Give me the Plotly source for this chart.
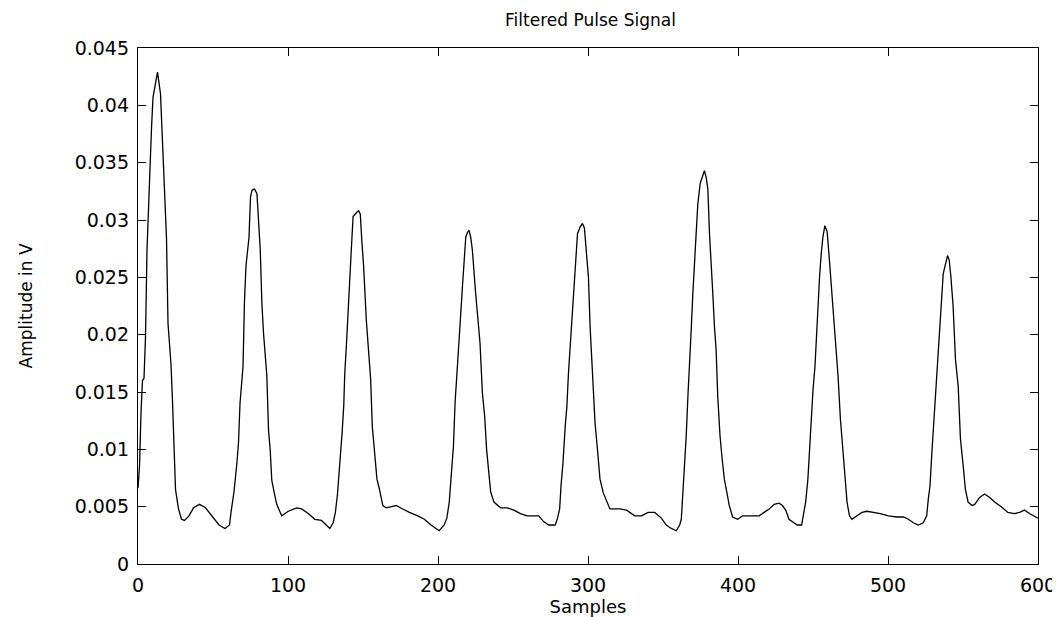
import plotly.graph_objects as go

# samples (x = sample index, y = amplitude in V)
samples = [
    0, 1, 2, 3, 4, 5, 6, 7, 9, 10, 12, 13, 15, 16, 18, 19, 20, 22, 23, 24,
    25, 27, 29, 31, 34, 37, 41, 45, 49, 54, 58, 61, 62, 64, 66, 67, 68, 70, 71, 72,
    74, 75, 76, 77.7, 79.3, 80.4, 81.5, 82.6, 83.7,
    85.9, 87.0, 88.1, 89.2, 90.7, 92.5, 95.8, 100.2, 105.8, 109.1, 113.5, 117.9, 122.3,
    127.9, 130.1, 131.6, 133.0, 133.8, 135.0, 136.1, 137.2, 137.8, 138.9, 140.0, 141.1,
    142.2, 143.4, 144.5, 146.0, 147.1, 148.2, 149.3, 150.4, 152.2, 153.7, 155.1, 156.2,
    157.7, 159.3, 161.0, 163.2, 165.5, 168.8, 172.1,
    176.5, 180.9, 186.5, 190.9, 195.3, 200.8, 204.1, 205.9, 207.5, 209.0, 210.3, 211.4,
    212.5, 214.1, 215.2, 216.3, 217.4, 218.5, 219.6, 220.7, 221.8, 222.9, 225.1, 226.7,
    228.0, 229.6, 231.1, 232.4, 234.0, 235.1, 237.3, 241.7, 246.1, 250.6, 255.0,
    259.4, 267.1, 270.4, 273.8, 278.2, 279.7, 281.1, 282.0, 283.3, 284.8, 285.9, 287.0,
    288.1, 289.2, 290.3, 291.4, 293.0, 294.8, 296.3, 297.6, 299.2, 300.3, 301.4, 303.2,
    304.7, 306.3, 308.0, 310.2, 312.4, 314.6, 318.0, 321.3, 325.7, 331.2, 335.7, 340.1,
    344.5, 348.9, 352.2, 355.5, 358.9, 361.1, 362.2, 363.3, 364.4, 365.5, 366.6, 367.7,
    368.8, 369.9, 371.0, 372.1, 373.2, 374.8, 376.5, 377.6, 378.8, 379.9, 381.0, 382.1,
    383.2, 384.3, 385.4, 386.5, 388.0, 389.4, 390.9, 392.5, 394.2, 396.4, 399.8, 403.1,
    407.5, 414.1, 417.4, 420.8, 424.1, 427.4,
    429.6, 431.8, 434.0, 436.2, 439.5, 442.4, 443.3, 445.1, 446.6, 447.7, 448.8, 450.0,
    451.3, 452.2, 453.5, 454.4, 455.5, 456.6, 457.9, 459.4, 460.6, 461.7, 462.8, 464.3,
    465.4, 466.7, 468.3, 469.4, 470.7, 471.6, 472.7, 474.3, 476.0, 479.3, 482.7, 486.0,
    490.4, 494.8, 500.3, 505.9, 510.3, 513.6,
    516.9, 520.2, 523.5, 525.8, 526.9, 528.0, 529.1, 530.2, 531.3, 532.4, 533.5, 534.6,
    535.7, 536.8, 538.4, 539.7, 540.8, 541.9, 543.4, 545.0, 546.8, 548.3, 550.1, 551.6,
    553.4, 556.0, 557.8, 561.1, 564.4, 567.8, 571.1, 575.5, 579.9, 584.3, 587.7, 591.0,
    594.3, 598.7, 600,
]

amplitude = [
    0.0066, 0.0085, 0.0132, 0.0160, 0.0162, 0.0198, 0.0274, 0.0313, 0.0380, 0.0407,
    0.0424, 0.0429, 0.0410, 0.0380, 0.0320, 0.0284, 0.0210, 0.0174, 0.0142, 0.0097,
    0.0065, 0.0048, 0.0039, 0.0038, 0.0042, 0.0049, 0.0052, 0.0049, 0.0042, 0.0034,
    0.0031, 0.0034, 0.0045, 0.0063, 0.0089, 0.0106, 0.0140, 0.0172, 0.0230, 0.0260,
    0.0285, 0.0320, 0.0326, 0.0327, 0.0323, 0.0294, 0.0274, 0.0227, 0.0201,
    0.0164, 0.0117, 0.0100, 0.0073, 0.0063, 0.0052, 0.0042, 0.0046, 0.0049, 0.0048,
    0.0044, 0.0039, 0.0038,
    0.0031, 0.0036, 0.0045, 0.0061, 0.0074, 0.0094, 0.0115, 0.0139, 0.0165, 0.0190,
    0.0222, 0.0248, 0.0274, 0.0303, 0.0305, 0.0307, 0.0308, 0.0305, 0.0280, 0.0260,
    0.0213, 0.0187, 0.0161, 0.0120, 0.0100, 0.0074, 0.0065, 0.0051, 0.0049, 0.0050,
    0.0051,
    0.0048, 0.0045, 0.0042, 0.0039, 0.0034, 0.0029, 0.0034, 0.0040, 0.0054, 0.0080,
    0.0103, 0.0141, 0.0167, 0.0193, 0.0219, 0.0242, 0.0265, 0.0285, 0.0289, 0.0291,
    0.0285, 0.0274, 0.0236, 0.0213, 0.0193, 0.0149, 0.0129, 0.0100, 0.0077, 0.0063,
    0.0054, 0.0049, 0.0049, 0.0047, 0.0044,
    0.0042, 0.0042, 0.0037, 0.0034, 0.0034, 0.0040, 0.0048, 0.0068, 0.0088, 0.0120,
    0.0137, 0.0167, 0.0190, 0.0216, 0.0239, 0.0262, 0.0288, 0.0294, 0.0297, 0.0293,
    0.0268, 0.0250, 0.0207, 0.0164, 0.0123, 0.0100, 0.0074, 0.0062, 0.0055, 0.0048,
    0.0048, 0.0048, 0.0047, 0.0042, 0.0042, 0.0045,
    0.0045, 0.0040, 0.0034, 0.0031, 0.0029, 0.0034, 0.0039, 0.0063, 0.0080, 0.0112,
    0.0146, 0.0172, 0.0204, 0.0236, 0.0265, 0.0294, 0.0314, 0.0332, 0.0340, 0.0343,
    0.0337, 0.0327, 0.0288, 0.0265, 0.0236, 0.0207, 0.0187, 0.0146, 0.0112, 0.0092,
    0.0074, 0.0063, 0.0051, 0.0041, 0.0039, 0.0042, 0.0042, 0.0042, 0.0045, 0.0048,
    0.0052, 0.0053,
    0.0051, 0.0047, 0.0039, 0.0037, 0.0034, 0.0034, 0.0042, 0.0054, 0.0074, 0.0100,
    0.0126, 0.0152, 0.0172, 0.0198, 0.0227, 0.0251, 0.0271, 0.0285, 0.0295, 0.0290,
    0.0271, 0.0251, 0.0236, 0.0210, 0.0187, 0.0164, 0.0126, 0.0106, 0.0083, 0.0065,
    0.0054, 0.0042, 0.0039, 0.0042, 0.0045, 0.0046, 0.0045, 0.0044, 0.0042, 0.0041,
    0.0041, 0.0039,
    0.0036, 0.0034, 0.0036, 0.0042, 0.0057, 0.0068, 0.0094, 0.0117, 0.0141, 0.0164,
    0.0184, 0.0210, 0.0230, 0.0253, 0.0262, 0.0269, 0.0265, 0.0251, 0.0225, 0.0178,
    0.0155, 0.0109, 0.0086, 0.0065, 0.0054, 0.0051, 0.0052, 0.0058, 0.0061, 0.0058,
    0.0054, 0.0050, 0.0045, 0.0044, 0.0045, 0.0047, 0.0044, 0.0041, 0.0040,
]

x_ticks = [0, 100, 200, 300, 400, 500, 600]
y_ticks = [0, 0.005, 0.01, 0.015, 0.02, 0.025, 0.03, 0.035, 0.04, 0.045]
y_tick_labels = ["0", "0.005", "0.01", "0.015", "0.02", "0.025", "0.03", "0.035", "0.04", "0.045"]

font = "DejaVu Sans, Arial, sans-serif"

fig = go.Figure()
fig.add_trace(
    go.Scatter(
        x=samples,
        y=amplitude,
        mode="lines",
        line=dict(color="black", width=1.3),
        showlegend=False,
    )
)

axis_style = dict(
    showline=True,
    linecolor="black",
    linewidth=1.3,
    mirror="allticks",
    ticks="inside",
    ticklen=8,
    tickcolor="black",
    showgrid=False,
    zeroline=False,
    tickfont=dict(family=font, size=19, color="black"),
    ticklabelstandoff=4,
)

fig.update_xaxes(
    range=[0, 600],
    tickvals=x_ticks,
    title=dict(text="Samples", font=dict(family=font, size=18, color="black"), standoff=4),
    **axis_style,
)
fig.update_yaxes(
    range=[0, 0.045],
    tickvals=y_ticks,
    ticktext=y_tick_labels,
    **axis_style,
)

fig.update_layout(
    width=1060,
    height=617,
    margin=dict(l=130, r=25, t=40, b=58),
    plot_bgcolor="white",
    paper_bgcolor="white",
    title=dict(
        text="Filtered Pulse Signal",
        font=dict(family=font, size=17, color="black"),
        x=0.5495,
        xanchor="center",
        y=0.99,
        yanchor="top",
        pad=dict(t=0),
    ),
    annotations=[
        dict(
            text="Amplitude in V",
            xref="paper",
            yref="paper",
            x=-0.124,
            y=0.5,
            xanchor="center",
            yanchor="middle",
            textangle=-90,
            showarrow=False,
            font=dict(family=font, size=17, color="black"),
        )
    ],
)

fig.write_html("out.html")
